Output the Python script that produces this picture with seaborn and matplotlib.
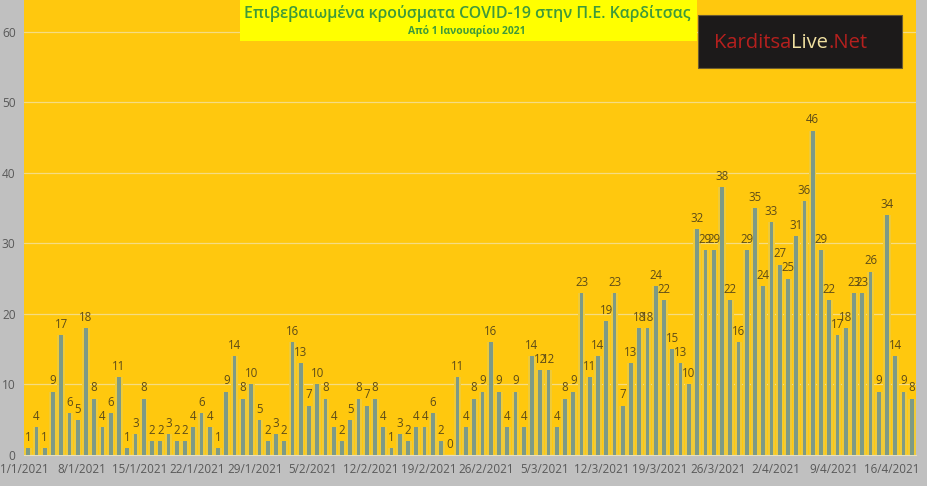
import numpy as np
import pandas as pd
import matplotlib
matplotlib.use("Agg")
import matplotlib.pyplot as plt
import seaborn as sns
from matplotlib.patches import Rectangle

# daily confirmed cases, 1/1/2021 - 18/4/2021
jan = [1, 4, 1, 9, 17, 6, 5, 18, 8, 4, 6, 11, 1, 3, 8, 2, 2, 3, 2, 2, 4, 6, 4, 1,
       9, 14, 8, 10, 5, 2, 3]
feb = [2, 16, 13, 7, 10, 8, 4, 2, 5, 8, 7, 8, 4, 1, 3, 2, 4, 4, 6, 2, 0, 11, 4, 8,
       9, 16, 9, 4]
mar = [9, 4, 14, 12, 12, 4, 8, 9, 23, 11, 14, 19, 23, 7, 13, 18, 18, 24, 22, 15,
       13, 10, 32, 29, 29, 38, 22, 16, 29, 35, 24]
apr = [33, 27, 25, 31, 36, 46, 29, 22, 17, 18, 23, 23, 26, 9, 34, 14, 9, 8]

cases = jan + feb + mar + apr
dates = pd.date_range("2021-01-01", periods=len(cases), freq="D")
day_labels = [f"{d.day}/{d.month}/{d.year}" for d in dates]

title = "Επιβεβαιωμένα κρούσματα COVID-19 στην Π.Ε. Καρδίτσας"
subtitle = "Από 1 Ιανουαρίου 2021"

df = pd.DataFrame({"day": day_labels, "cases": cases})

BG = "#C0C0C0"
PLOT_BG = "#FFC80E"
BAR = "#7D9A86"
GLOW = "#EFCA38"
LABEL = "#5E4C18"
TICK = "#595959"

sns.set_theme(style="white")
plt.rcParams["font.family"] = ["Open Sans", "DejaVu Sans"]

fig = plt.figure(figsize=(9.28, 4.86), dpi=100, facecolor=BG)
ax = fig.add_axes([24 / 928, 31 / 486, 892 / 928, 455 / 486])
ax.set_facecolor(PLOT_BG)

# pale band around each bar, then the bars themselves
sns.barplot(data=df, x="day", y="cases", color=GLOW, width=0.9,
            saturation=1, linewidth=0, edgecolor="none", ax=ax, zorder=2)
sns.barplot(data=df, x="day", y="cases", color=BAR, width=0.45,
            saturation=1, linewidth=0, edgecolor="none", ax=ax, zorder=3)

ax.bar_label(ax.containers[1], labels=[str(v) for v in cases],
             fontsize=8.3, color=LABEL, padding=3)

ax.set_xlim(-0.5, len(cases) - 0.5)
ax.set_ylim(0, 64.5)
ax.set_yticks(range(0, 70, 10))
ax.yaxis.grid(True, color="#F5DC82", linewidth=0.9, zorder=1)
ax.set_axisbelow(True)

tick_pos = list(range(0, len(cases), 7))
ax.set_xticks([p - 0.5 for p in tick_pos])
ax.set_xticklabels([day_labels[p] for p in tick_pos], fontsize=8.4, color=TICK)
ax.tick_params(axis="x", length=4, color="#E8E0C0", pad=2, direction="out")
ax.tick_params(axis="y", length=0, labelsize=8.6, labelcolor=TICK, pad=6)
ax.set_xlabel("")
ax.set_ylabel("")
for s in ["top", "right", "left"]:
    ax.spines[s].set_visible(False)
ax.spines["bottom"].set_color("#E8E0C0")
ax.spines["bottom"].set_linewidth(0.8)

# title box
fig.patches.append(Rectangle((240 / 928, 1 - 41 / 486), 457 / 928, 41 / 486,
                             transform=fig.transFigure, facecolor="#FFFF00",
                             edgecolor="none", zorder=5))
fig.text(467 / 928, 1 - 14 / 486, title, ha="center", va="center",
         fontsize=11.4, color="#3E9A3A", fontweight="semibold", zorder=6)
fig.text(467 / 928, 1 - 31 / 486, subtitle, ha="center", va="center",
         fontsize=7.4, color="#3E9A3A", fontweight="bold", zorder=6)

# logo box
fig.patches.append(Rectangle((698 / 928, 1 - 68 / 486), 204 / 928, 53 / 486,
                             transform=fig.transFigure, facecolor="#1C1A1A",
                             edgecolor="#6A5A30", linewidth=0.8, zorder=5))
x0 = 714 / 928
yc = 1 - 43 / 486
t1 = fig.text(x0, yc, "Karditsa", ha="left", va="center", fontsize=14.5,
              color="#B5201E", zorder=6)
fig.canvas.draw()
bb = t1.get_window_extent().transformed(fig.transFigure.inverted())
t2 = fig.text(bb.x1, yc, "Live", ha="left", va="center", fontsize=14.5,
              color="#F0E0A0", zorder=6)
fig.canvas.draw()
bb = t2.get_window_extent().transformed(fig.transFigure.inverted())
fig.text(bb.x1, yc, ".Net", ha="left", va="center", fontsize=14.5,
         color="#B5201E", zorder=6)

fig.savefig("out.png", dpi=100, facecolor=BG)
